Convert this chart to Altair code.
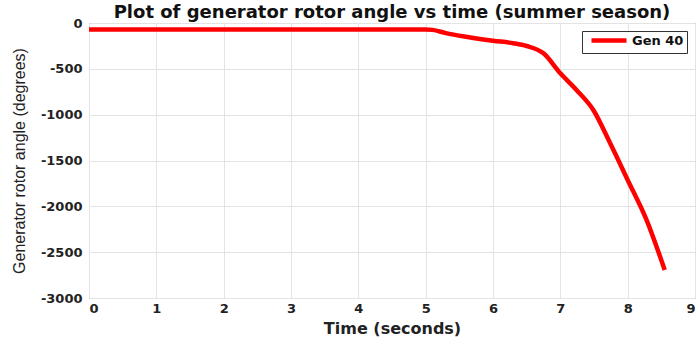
import altair as alt
import pandas as pd

time_s = [0, 1, 2, 3, 4, 5.0, 5.1, 5.3, 5.6, 6.0, 6.3, 6.5, 6.75, 7.0, 7.24, 7.49, 7.74, 8.0, 8.28, 8.55]
angle_deg = [-70, -70, -70, -70, -70, -70, -75, -110, -150, -193, -220, -251, -331, -549, -731, -949, -1312, -1712, -2148, -2694]
series = ["Gen 40"] * len(time_s)
x_ticks = [0, 1, 2, 3, 4, 5, 6, 7, 8, 9]
y_ticks = [-3000, -2500, -2000, -1500, -1000, -500, 0]

df = pd.DataFrame({"t": time_s, "a": angle_deg, "s": series})

lab = dict(labelFont="DejaVu Sans", labelFontWeight="bold", labelFontSize=13, labelColor="#222",
           tickSize=0, domain=False, gridColor="#e3e3e3", gridWidth=1, titleColor="#222",
           labelExpr="toString(datum.value)")

line = alt.Chart(df).mark_line(strokeWidth=4.5, interpolate="monotone").encode(
    x=alt.X("t:Q", scale=alt.Scale(domain=[0, 9], nice=False),
            axis=alt.Axis(title="Time (seconds)", values=x_ticks,
                          titleFont="DejaVu Sans", titleFontWeight="bold", titleFontSize=16,
                          labelPadding=4, titlePadding=5, **lab)),
    y=alt.Y("a:Q", scale=alt.Scale(domain=[-3000, 0], nice=False),
            axis=alt.Axis(title="Generator rotor angle (degrees)", values=y_ticks,
                          titleFont="Liberation Sans", titleFontWeight="normal", titleFontSize=16,
                          labelPadding=7, titlePadding=13, **lab)),
    color=alt.Color("s:N", scale=alt.Scale(domain=["Gen 40"], range=["#ff0000"]),
                    legend=alt.Legend(title=None, orient="top-right", offset=8,
                                      symbolType="M0,0L8.75,0", symbolStrokeWidth=4.5, symbolSize=64,
                                      symbolStrokeColor="#ff0000", symbolFillColor="transparent",
                                      labelFont="DejaVu Sans", labelFontWeight="bold", labelFontSize=13,
                                      labelColor="#111", strokeColor="#333", fillColor="white",
                                      padding=3, labelOffset=34))
)

chart = line.properties(
    width=606, height=275,
    background="white",
    title=alt.TitleParams("Plot of generator rotor angle vs time (summer season)",
                          font="DejaVu Sans", fontWeight="bold", fontSize=18, color="#111",
                          offset=1, dy=6),
    autosize=alt.AutoSizeParams(type="none"),
    padding={"left": 89, "top": 23, "right": 4, "bottom": 48},
).configure_view(
    stroke="#888", strokeWidth=1
)

chart.save("out.html", embed_options={"renderer": "svg", "actions": False})
